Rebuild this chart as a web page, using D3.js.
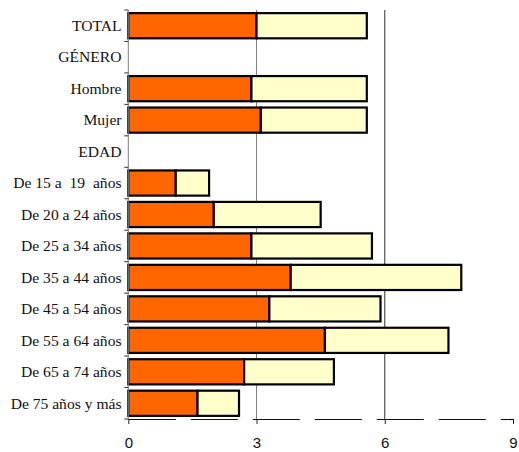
<!DOCTYPE html>
<html>
<head>
<meta charset="utf-8">
<script src="https://cdn.jsdelivr.net/npm/d3@7"></script>
<style>
  body { margin: 0; background: #fff; }
  svg { display: block; }
  .cat { font-family: 'Liberation Serif', 'Times New Roman', serif; font-size: 15.6px; fill: #111; white-space: pre; }
  .num { font-family: 'Liberation Sans', Arial, sans-serif; font-size: 15px; fill: #111; }
</style>
</head>
<body>
<svg id="chart"></svg>
<script>
// categorias y valores
const categories = ['TOTAL', 'GÉNERO', 'Hombre', 'Mujer', 'EDAD',
  'De 15 a  19  años', 'De 20 a 24 años', 'De 25 a 34 años', 'De 35 a 44 años',
  'De 45 a 54 años', 'De 55 a 64 años', 'De 65 a 74 años', 'De 75 años y más'];
const serie1 = [3.00, null, 2.88, 3.10, null, 1.11, 2.00, 2.88, 3.80, 3.30, 4.60, 2.71, 1.62];
const serie2 = [2.58, null, 2.70, 2.48, null, 0.78, 2.50, 2.82, 3.99, 2.60, 2.89, 2.10, 0.97];
const xTicks = [0, 3, 6, 9];

const width = 519;
const height = 452;

const svg = d3.select('#chart')
  .attr('width', width)
  .attr('height', height);

const x = d3.scaleLinear().domain([0, 9]).range([128.3, 513]);
const y = d3.scaleBand().domain(categories).range([10, 419])
  .paddingInner(0.2).paddingOuter(0.1);

const rows = categories.map((c, i) => ({ cat: c, a: serie1[i], b: serie2[i] }))
  .filter(d => d.a != null);

// gridlines
svg.append('g').selectAll('line')
  .data([3, 6])
  .join('line')
  .attr('x1', d => x(d)).attr('x2', d => x(d))
  .attr('y1', 10).attr('y2', 419)
  .attr('stroke', (d, i) => i === 0 ? '#808080' : '#333')
  .attr('stroke-width', 1);

// bars
const bars = svg.append('g');
bars.selectAll('.s1')
  .data(rows)
  .join('rect')
  .attr('class', 's1')
  .attr('x', x(0))
  .attr('y', d => y(d.cat))
  .attr('width', d => x(d.a) - x(0))
  .attr('height', y.bandwidth())
  .attr('fill', '#FF6600')
  .attr('stroke', '#000')
  .attr('stroke-width', 2.2);

bars.selectAll('.s2')
  .data(rows)
  .join('rect')
  .attr('class', 's2')
  .attr('x', d => x(d.a))
  .attr('y', d => y(d.cat))
  .attr('width', d => x(d.a + d.b) - x(d.a))
  .attr('height', y.bandwidth())
  .attr('fill', '#FFFFCC')
  .attr('stroke', '#000')
  .attr('stroke-width', 2.2);

// left axis: line and ticks on band boundaries
const step = y.step();
const bounds = d3.range(categories.length + 1).map(i => 10 + i * step);
const left = svg.append('g');
left.append('line')
  .attr('x1', x(0)).attr('x2', x(0))
  .attr('y1', 10).attr('y2', 419)
  .attr('stroke', '#808080');
left.selectAll('.tk')
  .data(bounds)
  .join('line')
  .attr('class', 'tk')
  .attr('x1', x(0) - 4).attr('x2', x(0))
  .attr('y1', d => d).attr('y2', d => d)
  .attr('stroke', '#333');

left.selectAll('text')
  .data(categories)
  .join('text')
  .attr('class', 'cat')
  .attr('x', 121.5)
  .attr('y', d => y(d) + y.bandwidth() / 2)
  .attr('dy', '0.34em')
  .attr('text-anchor', 'end')
  .text(d => d);

// bottom axis, dashed
const xAxis = d3.axisBottom(x)
  .tickValues(xTicks)
  .tickSize(5)
  .tickSizeOuter(0)
  .tickFormat(d3.format('d'));

const gx = svg.append('g')
  .attr('transform', 'translate(0,419)')
  .call(xAxis)
  .attr('font-family', null)
  .attr('font-size', null);
gx.select('.domain')
  .attr('stroke', '#111')
  .attr('stroke-width', 1.2)
  .attr('stroke-dasharray', '47,15');
gx.selectAll('.tick line').attr('stroke', '#222');
gx.selectAll('.tick text')
  .attr('class', 'num')
  .attr('fill', null)
  .attr('y', 18)
  .attr('dy', '0.71em');
</script>
</body>
</html>
